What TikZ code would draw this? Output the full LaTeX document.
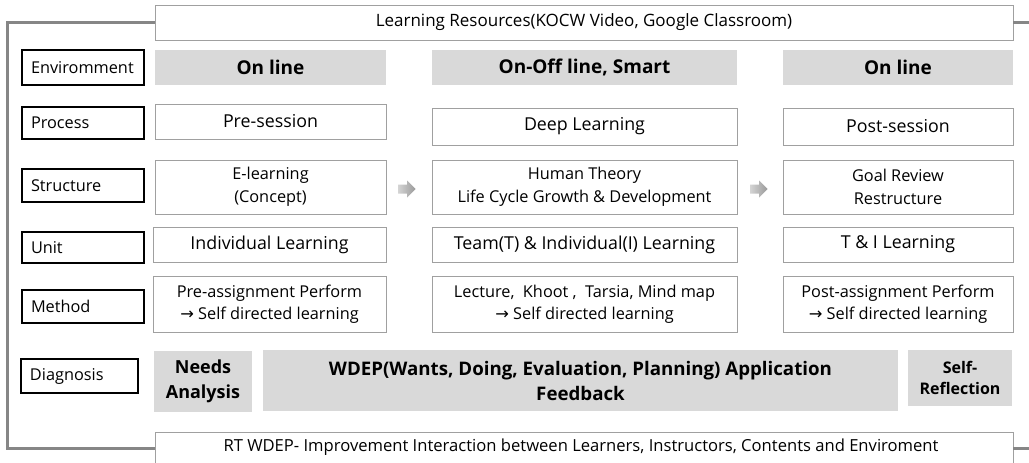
\documentclass[tikz,border=0pt]{standalone}
\usepackage{fontspec}
\setmainfont{Open Sans}
\newfontfamily\arrowfont{DejaVu Sans}
\newcommand{\rarr}{{\arrowfont →}}
\definecolor{headfill}{HTML}{D9D9D9}
\definecolor{cellline}{HTML}{A0A0A0}
\definecolor{framegray}{HTML}{868686}
\definecolor{flowlight}{HTML}{D4D4D4}
\definecolor{flowdark}{HTML}{9A9A9A}

\begin{document}
\begin{tikzpicture}[x=1pt,y=-1pt,
  cell/.style={draw=cellline, line width=0.8pt, fill=white, inner sep=0pt,
    align=center, font=\fontsize{16.3}{22}\selectfont},
  bigcell/.style={cell, font=\fontsize{17.8}{22}\selectfont},
  head/.style={fill=headfill, inner sep=0pt, align=center,
    font=\bfseries\fontsize{19}{24}\selectfont},
  tag/.style={draw=black, line width=1.1pt, fill=white, inner xsep=9pt, inner ysep=0pt,
    text width=104pt, align=left, font=\fontsize{16.3}{20}\selectfont},
  flow/.style={left color=flowlight, right color=flowdark, draw=none}
]
\useasboundingbox (0,0) rectangle (1029,463);
\clip (0,0) rectangle (1029,463);

% resources and improvement bars
\node[cell, minimum width=858pt, minimum height=35pt, font=\fontsize{17}{22}\selectfont]
  (res) at (584,22.5) {Learning Resources(KOCW Video, Google Classroom)};
\node[cell, minimum width=858pt, minimum height=38pt] (imp) at (584,451) {};
\node[font=\fontsize{16.6}{20}\selectfont, inner sep=0pt] (imptext) at (581,447)
  {RT WDEP- Improvement Interaction between Learners, Instructors, Contents and Enviroment};

% feedback frame
\coordinate (ftl) at (7,22.5);
\coordinate (fbl) at (7,448);
\coordinate (ftr) at (1040,22.5);
\coordinate (fbr) at (1040,448);
\draw[framegray, line width=3pt] (res.west) -- (ftl) -- (fbl) -- (imp.west |- fbl);
\draw[framegray, line width=3pt] (res.east) -- (ftr);
\draw[framegray, line width=3pt] (imp.east |- fbr) -- (fbr);

% row labels
\node[tag, minimum height=35pt] (tenv) at (83,67.5) {Enviromment};
\node[tag, minimum height=32pt] (tpro) at (83,123) {Process};
\node[tag, minimum height=33pt] (tstr) at (83,185.5) {Structure};
\node[tag, minimum height=31pt] (tuni) at (83,247.5) {Unit};
\node[tag, minimum height=33pt] (tmet) at (83,306.5) {Method};
\node[tag, minimum height=34pt, text width=99pt] (tdia) at (79.5,376) {Diagnosis};

% environment
\node[head, minimum width=231pt, minimum height=35pt] (e1) at (270.5,67.5) {On line};
\node[head, minimum width=305pt, minimum height=35pt] (e2) at (584.5,67.5) {On-Off line, Smart};
\node[head, minimum width=230pt, minimum height=35pt] (e3) at (898,67.5) {On line};

% process
\node[bigcell, minimum width=231pt, minimum height=35pt] (p1) at (270.5,121.5) {Pre-session};
\node[bigcell, minimum width=305pt, minimum height=37pt] (p2) at (584.5,126.5) {Deep Learning};
\node[bigcell, minimum width=230pt, minimum height=37pt] (p3) at (898,126.5) {Post-session};

% structure
\node[cell, minimum width=231pt, minimum height=54pt, font=\fontsize{16.3}{23}\selectfont]
  (s1) at (270.5,187) {E-learning\\(Concept)};
\node[cell, minimum width=305pt, minimum height=54pt, font=\fontsize{16.3}{23}\selectfont]
  (s2) at (584.5,187) {Human Theory\\Life Cycle Growth \& Development};
\node[cell, minimum width=230pt, minimum height=54pt, font=\fontsize{16.3}{23}\selectfont]
  (s3) at (898,187) {Goal Review\\Restructure};

% block arrows between the structure cells
\coordinate (a1) at (407,189);
\coordinate (a2) at (759,189);
\foreach \c in {a1,a2}{
  \begin{scope}[shift={(\c)}]
    \shade[flow] (-9,-4.5) -- (0,-4.5) -- (0,-8.5) -- (8.5,0) -- (0,8.5) -- (0,4.5)
      -- (-9,4.5) -- cycle;
  \end{scope}
}

% unit
\node[bigcell, minimum width=233pt, minimum height=35pt] (u1) at (269.5,244.5) {Individual Learning};
\node[bigcell, minimum width=305pt, minimum height=35pt] (u2) at (584.5,244.5)
  {Team(T) \& Individual(I) Learning};
\node[bigcell, minimum width=230pt, minimum height=35pt] (u3) at (898,244.5) {T \& I Learning};

% method
\node[cell, minimum width=233pt, minimum height=56pt] (m1) at (269.5,304)
  {Pre-assignment Perform\\\rarr\ Self directed learning};
\node[cell, minimum width=305pt, minimum height=56pt] (m2) at (584.5,304)
  {Lecture,\ \ Khoot ,\ \ Tarsia, Mind map\\\rarr\ Self directed learning};
\node[cell, minimum width=230pt, minimum height=56pt] (m3) at (898,304)
  {Post-assignment Perform\\\rarr\ Self directed learning};

% diagnosis
\node[head, minimum width=98pt, minimum height=61pt, font=\bfseries\fontsize{18}{25}\selectfont]
  (d1) at (203,381.5) {Needs\\Analysis};
\node[head, minimum width=635pt, minimum height=61pt, font=\bfseries\fontsize{18.7}{25}\selectfont]
  (d2) at (580.5,380.5) {WDEP(Wants, Doing, Evaluation, Planning) Application\\Feedback};
\node[head, minimum width=104pt, minimum height=56pt, font=\bfseries\fontsize{16}{21.5}\selectfont]
  (d3) at (960,378) {Self-\\Reflection};
\end{tikzpicture}
\end{document}
